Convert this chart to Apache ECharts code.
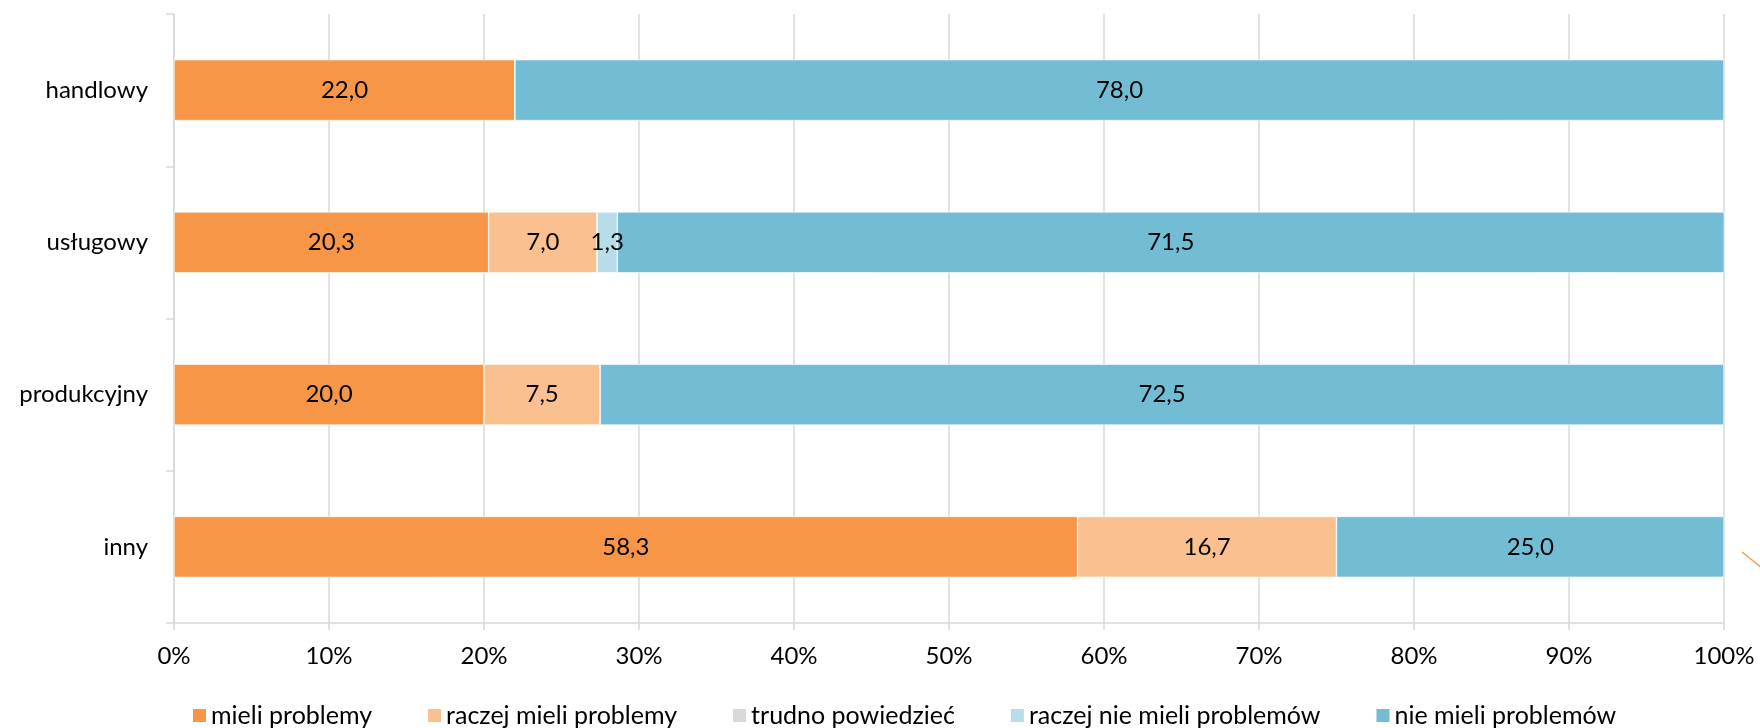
<!DOCTYPE html>
<html>
<head>
<meta charset="utf-8">
<style>
  html, body { margin: 0; padding: 0; background: #fff; }
  #chart { width: 1760px; height: 728px; }
</style>
<script src="https://cdn.jsdelivr.net/npm/echarts@6/dist/echarts.min.js"></script>
</head>
<body>
<div id="chart"></div>
<script>
// Company types (top to bottom)
const categories = ['handlowy', 'usługowy', 'produkcyjny', 'inny'];

// Share of answers per company type, in percent
const mieliProblemy = [22.0, 20.3, 20.0, 58.3];
const raczejMieliProblemy = [0, 7.0, 7.5, 16.7];
const trudnoPowiedziec = [0, 0, 0, 0];
const raczejNieMieliProblemow = [0, 1.3, 0, 0];
const nieMieliProblemow = [78.0, 71.5, 72.5, 25.0];

const seriesNames = [
  'mieli problemy',
  'raczej mieli problemy',
  'trudno powiedzieć',
  'raczej nie mieli problemów',
  'nie mieli problemów'
];
const seriesData = [mieliProblemy, raczejMieliProblemy, trudnoPowiedziec, raczejNieMieliProblemow, nieMieliProblemow];
const seriesColors = ['#F79646', '#FAC090', '#D9D9D9', '#B7DEE8', '#73BDD4'];

const FONT = 'Lato';
const FONT_SIZE = 24;

const chart = echarts.init(document.getElementById('chart'), null, { renderer: 'canvas' });

chart.setOption({
  animation: false,
  textStyle: { fontFamily: FONT },
  grid: { left: 174, right: 36, top: 14, bottom: 105, containLabel: false },
  legend: {
    top: 698,
    left: 186,
    itemWidth: 15,
    itemHeight: 15,
    itemGap: 54,
    icon: 'rect',
    textStyle: { fontFamily: FONT, fontSize: 25, color: '#000', padding: [0, 0, 0, -1] },
    data: seriesNames
  },
  xAxis: {
    type: 'value',
    min: 0,
    max: 100,
    interval: 10,
    axisLine: { show: true, lineStyle: { color: '#D9D9D9', width: 1.5 } },
    axisTick: { show: true, length: 7, lineStyle: { color: '#D9D9D9', width: 1.5 } },
    splitLine: { show: true, lineStyle: { color: '#D9D9D9', width: 1.5 } },
    axisLabel: {
      formatter: '{value}%',
      fontFamily: FONT,
      fontSize: FONT_SIZE,
      color: '#000',
      margin: 21
    }
  },
  yAxis: {
    type: 'category',
    inverse: true,
    data: categories,
    axisLine: { show: true, lineStyle: { color: '#D9D9D9', width: 1.5 } },
    axisTick: { show: true, length: 8, lineStyle: { color: '#D9D9D9', width: 1.5 } },
    axisLabel: { fontFamily: FONT, fontSize: FONT_SIZE, color: '#000', margin: 26 }
  },
  series: seriesNames.map((name, i) => ({
    name,
    type: 'bar',
    stack: 'total',
    barWidth: '40%',
    data: seriesData[i],
    itemStyle: { color: seriesColors[i], borderColor: '#fff', borderWidth: 0.6 },
    label: {
      show: true,
      position: 'inside',
      fontFamily: FONT,
      fontSize: FONT_SIZE,
      color: '#000',
      formatter: p => (p.value > 0 ? p.value.toFixed(1).replace('.', ',') : '')
    }
  })),
  graphic: [{
    type: 'line',
    shape: { x1: 1742, y1: 552, x2: 1762, y2: 568 },
    style: { stroke: '#F79646', lineWidth: 1.5 }
  }]
});
</script>
</body>
</html>
